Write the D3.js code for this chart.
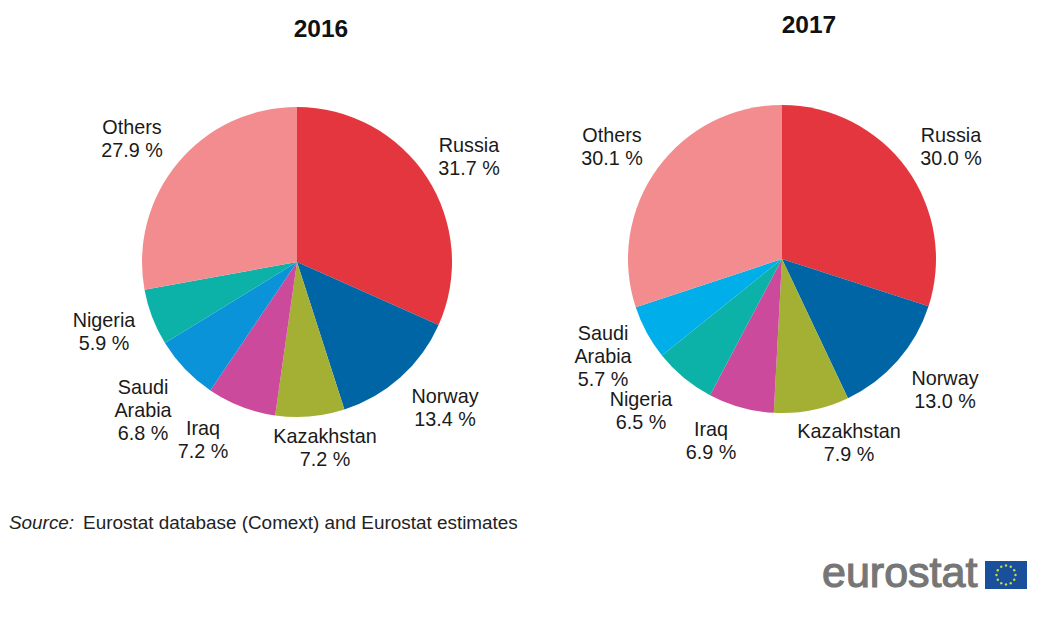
<!DOCTYPE html>
<html>
<head>
<meta charset="utf-8">
<script src="https://cdn.jsdelivr.net/npm/d3@7/dist/d3.min.js"></script>
<style>
html,body{margin:0;padding:0;background:#fff;}
svg{display:block;font-family:"Liberation Sans",Arial,sans-serif;}
</style>
</head>
<body>
<svg id="chart" width="1056" height="622"></svg>
<script>
// Share of extra-EU crude oil imports by partner, per year
const labels2016 = ["Russia","Norway","Kazakhstan","Iraq","Saudi Arabia","Nigeria","Others"];
const values2016 = [31.7,13.4,7.2,7.2,6.8,5.9,27.9];
const colors2016 = ["#e4363f","#0065a4","#a3b034","#cc4a9c","#0b93d9","#0cb1a8","#f38c8f"];

const labels2017 = ["Russia","Norway","Kazakhstan","Iraq","Nigeria","Saudi Arabia","Others"];
const values2017 = [30.0,13.0,7.9,6.9,6.5,5.7,30.1];
const colors2017 = ["#e4363f","#0065a4","#a3b034","#cc4a9c","#0cb1a8","#00aeea","#f38c8f"];

// Centre of each label's first line, relative to the pie centre, one per slice
const labelPos2016 = [[172,-110],[148,141],[28,181],[-94,173],[-154,132],[-193,65],[-165,-128]];
const labelPos2017 = [[169,-117],[163,126],[67,179],[-71,177],[-141,147],[-179,81],[-170,-117]];

const svg = d3.select("#chart");

function drawPie(cx, cy, r, title, titleX, titleY, labels, values, colors, positions) {
  const g = svg.append("g").attr("transform", `translate(${cx},${cy})`);
  const pie = d3.pie().sort(null).value(d => d);
  const arc = d3.arc().innerRadius(0).outerRadius(r);
  g.selectAll("path").data(pie(values)).join("path")
    .attr("d", arc)
    .attr("fill", (d, i) => colors[i]);

  labels.forEach((name, i) => {
    const [dx, dy] = positions[i];
    const words = name === "Saudi Arabia" ? ["Saudi", "Arabia"] : [name];
    const t = g.append("text").attr("x", dx).attr("y", dy)
      .attr("text-anchor", "middle")
      .attr("font-size", 19.8).attr("fill", "#1a1a1a");
    words.concat([values[i].toFixed(1) + " %"]).forEach((line, k) => {
      t.append("tspan").attr("x", dx).attr("dy", k ? 23 : 0).text(line);
    });
  });

  svg.append("text").attr("x", titleX).attr("y", titleY)
    .attr("text-anchor", "middle").attr("font-size", 24.5)
    .attr("font-weight", "bold").attr("fill", "#111").text(title);
}

drawPie(297, 262, 155, "2016", 321, 37, labels2016, values2016, colors2016, labelPos2016);
drawPie(782, 259, 154, "2017", 809, 33, labels2017, values2017, colors2017, labelPos2017);

// Source line
const src = svg.append("text").attr("x", 9).attr("y", 529).attr("font-size", 18.9).attr("fill", "#222");
src.append("tspan").attr("font-style", "italic").text("Source:");
src.append("tspan").attr("dx", 9).text("Eurostat database (Comext) and Eurostat estimates");

// Wordmark and flag
svg.append("text").attr("x", 822).attr("y", 587).attr("font-size", 43)
  .attr("fill", "#767676").attr("stroke", "#767676").attr("stroke-width", 1.2).text("eurostat");
const flag = svg.append("g").attr("transform", "translate(985,561)");
flag.append("rect").attr("width", 42).attr("height", 28).attr("fill", "#1a4f9c");
d3.range(12).forEach(i => {
  const a = i / 12 * 2 * Math.PI;
  flag.append("circle").attr("cx", 21 + 9.5 * Math.cos(a)).attr("cy", 14 + 9.5 * Math.sin(a))
    .attr("r", 1.2).attr("fill", "#c9dc3a");
});
</script>
</body>
</html>
